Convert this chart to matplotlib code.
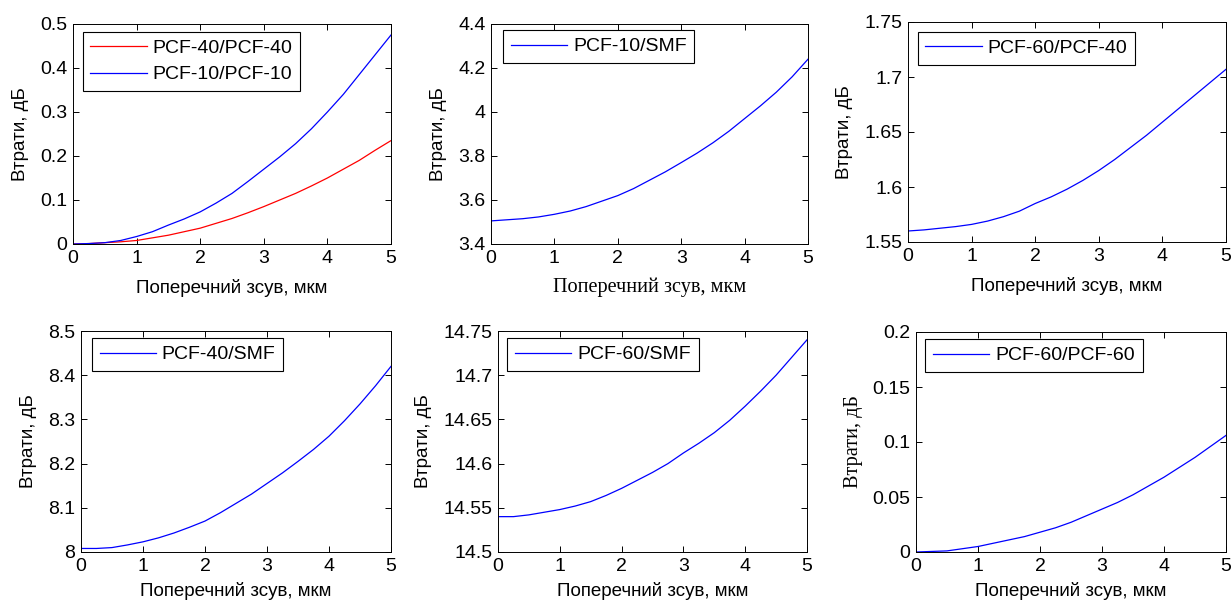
import matplotlib
matplotlib.use("Agg")
import matplotlib.pyplot as plt
from matplotlib.ticker import FormatStrFormatter, MultipleLocator

plt.rcParams["font.family"] = ["Liberation Sans", "DejaVu Sans"]
plt.rcParams["font.size"] = 13

# shift, um
shift = [0, 0.25, 0.5, 0.75, 1, 1.25, 1.5, 1.75, 2, 2.25, 2.5,
         2.75, 3, 3.25, 3.5, 3.75, 4, 4.25, 4.5, 4.75, 5]

pcf40_pcf40 = [0, 0.001, 0.003, 0.005, 0.008, 0.014, 0.020, 0.028, 0.036, 0.047, 0.058,
               0.071, 0.085, 0.100, 0.115, 0.132, 0.150, 0.170, 0.190, 0.213, 0.235]
pcf10_pcf10 = [0, 0.001, 0.003, 0.008, 0.017, 0.028, 0.043, 0.057, 0.073, 0.093, 0.115,
               0.142, 0.170, 0.198, 0.228, 0.262, 0.300, 0.340, 0.385, 0.430, 0.475]
pcf10_smf = [3.505, 3.510, 3.515, 3.523, 3.535, 3.550, 3.570, 3.595, 3.620, 3.652, 3.690,
             3.728, 3.770, 3.813, 3.860, 3.912, 3.970, 4.028, 4.090, 4.160, 4.240]
pcf60_pcf40 = [1.560, 1.561, 1.5625, 1.564, 1.566, 1.569, 1.573, 1.578, 1.585, 1.591, 1.598,
               1.606, 1.615, 1.625, 1.636, 1.647, 1.659, 1.671, 1.683, 1.695, 1.707]
pcf40_smf = [8.008, 8.008, 8.010, 8.016, 8.023, 8.032, 8.043, 8.056, 8.070, 8.089, 8.110,
             8.131, 8.155, 8.179, 8.205, 8.232, 8.262, 8.297, 8.335, 8.376, 8.420]
pcf60_smf = [14.540, 14.540, 14.542, 14.545, 14.548, 14.552, 14.557, 14.564, 14.572, 14.581, 14.590,
             14.600, 14.612, 14.623, 14.635, 14.649, 14.665, 14.682, 14.700, 14.720, 14.740]
pcf60_pcf60 = [0, 0.0005, 0.001, 0.003, 0.005, 0.008, 0.011, 0.014, 0.018, 0.022, 0.027,
               0.033, 0.039, 0.045, 0.052, 0.060, 0.068, 0.077, 0.086, 0.096, 0.106]

XLABEL = "Поперечний зсув, мкм"
YLABEL = "Втрати, дБ"

fig = plt.figure(figsize=(12.31, 6.03), dpi=100)

W, H = 1231, 603
def axes_px(l, t, r, b):
    return fig.add_axes([l / W, (H - b) / H, (r - l) / W, (b - t) / H])

panels = [
    # (box px, series, ylim, ystep, legend offset, xlabel serif, ylabel serif, xlabel pad)
    ((73, 24, 391, 244), [(pcf40_pcf40, "red", "PCF-40/PCF-40"), (pcf10_pcf10, "blue", "PCF-10/PCF-10")],
     (0, 0.5), 0.1, (0.03, 0.965), False, False, 9),
    ((491, 24, 808, 244), [(pcf10_smf, "blue", "PCF-10/SMF")],
     (3.4, 4.4), 0.2, (0.038, 0.973), True, False, 8),
    ((908, 22, 1226, 242), [(pcf60_pcf40, "blue", "PCF-60/PCF-40")],
     (1.55, 1.75), 0.05, (0.03, 0.955), False, False, 9),
    ((81, 331, 391, 552), [(pcf40_smf, "blue", "PCF-40/SMF")],
     (8, 8.5), 0.1, (0.035, 0.968), False, False, 5),
    ((498, 331, 807, 552), [(pcf60_smf, "blue", "PCF-60/SMF")],
     (14.5, 14.75), 0.05, (0.03, 0.968), False, False, 5),
    ((916, 332, 1226, 552), [(pcf60_pcf60, "blue", "PCF-60/PCF-60")],
     (0, 0.2), 0.05, (0.03, 0.968), False, True, 5),
]

for box, series, ylim, ystep, loff, xserif, yserif, xpad in panels:
    ax = axes_px(*box)
    for vals, col, lab in series:
        ax.plot(shift, vals, color=col, lw=0.9, label=lab)
    ax.set_xlim(0, 5)
    ax.set_ylim(*ylim)
    ax.xaxis.set_major_locator(MultipleLocator(1))
    ax.yaxis.set_major_locator(MultipleLocator(ystep))
    ax.yaxis.set_major_formatter(FormatStrFormatter("%g"))
    ax.xaxis.set_major_formatter(FormatStrFormatter("%g"))
    ax.tick_params(direction="in", length=4, width=0.7, top=True, right=True,
                   labelsize=14, pad=4)
    for s in ax.spines.values():
        s.set_linewidth(0.7)
    if xserif:
        ax.set_xlabel(XLABEL, fontsize=14.6, family=["Liberation Serif"], labelpad=xpad)
    else:
        ax.set_xlabel(XLABEL, fontsize=13.5, family=["Liberation Sans"], labelpad=xpad)
    if yserif:
        ax.set_ylabel(YLABEL, fontsize=14.6, family=["Liberation Serif"], labelpad=7)
    else:
        ax.set_ylabel(YLABEL, fontsize=13.5, family=["Liberation Sans"], labelpad=8)
    leg = ax.legend(loc="upper left", bbox_to_anchor=loff, borderaxespad=0,
                    fancybox=False, edgecolor="black", framealpha=1,
                    handlelength=2.9, fontsize=14, borderpad=0.4,
                    labelspacing=0.45, handletextpad=0.3)
    leg.get_frame().set_linewidth(0.8)

fig.savefig("out.png", dpi=100)
